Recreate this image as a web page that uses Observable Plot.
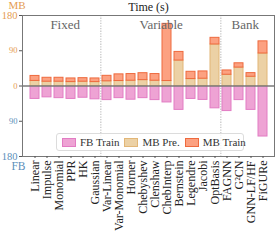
<!DOCTYPE html>
<html>
<head>
<meta charset="utf-8">
<script src="https://cdn.jsdelivr.net/npm/d3@7"></script>
<script src="https://cdn.jsdelivr.net/npm/@observablehq/plot@0.6"></script>
<style>
  body { margin: 0; background: #fff; }
  #wrap { position: relative; width: 279px; height: 241px; }
  #wrap, #wrap svg, #wrap svg text, #legend { font-family: "Liberation Serif", "Times New Roman", "DejaVu Serif", serif !important; }
  #legend { position: absolute; left: 56px; top: 133px; width: 181px; height: 16px;
    border: 1px solid #dcdcdc; border-radius: 3px; background: rgba(255,255,255,0.8);
    display: flex; align-items: center; font-size: 11px; color: #333; padding-left: 5px; box-sizing: content-box; }
  .item { display: flex; align-items: center; margin-right: 5px; white-space: nowrap; }
  .sw { width: 12px; height: 7px; margin-right: 4px; border: 1px solid; }
</style>
</head>
<body>
<div id="wrap"></div>
<script>
const categories = ["Linear","Impulse","Monomial","PPR","HK","Gaussian","Var-Linear","Var-Monomial","Horner","Chebyshev","Clenshaw","ChebInterp","Bernstein","Legendre","Jacobi","OptBasis","FAGNN","G²CN","GNN-LF/HF","FiGURe"];
const mbPre   = [13, 11, 11, 10, 11, 10, 12, 12.7, 13.5, 15, 13.5, 12.7, 65, 17.7, 18.6, 106, 28.7, 47, 23.6, 83];
const mbTrain = [12.7, 10, 10, 9.3, 9, 9.3, 14, 17, 17, 17.7, 17, 146, 22, 18.6, 18.6, 17, 11, 11, 9.3, 31];
const fbTrain = [33, 29, 31, 33, 30, 34, 36, 31, 35, 31, 36, 42, 61, 33, 35.5, 57, 64, 36, 61, 129];
const sections = ["Fixed", "Variable", "Bank"];
const sectionMid = ["Monomial", "Clenshaw", "G²CN"];
const sectionStart = ["Var-Linear", "FAGNN"];
const seriesNames = ["FB Train", "MB Pre.", "MB Train"];
const yTicksBig = [180, -180];
const yTicksSmall = [90, 0, -90];

const colors = {
  "FB Train": {fill: "#eea3d4", stroke: "#e27cc3"},
  "MB Pre.":  {fill: "#ecd1a5", stroke: "#e2b677"},
  "MB Train": {fill: "#fca181", stroke: "#ee6a3e"}
};
const mbColor = "#e59c52", fbColor = "#5b8fba";

const rows = categories.map((c, i) => ({cat: c, pre: mbPre[i], train: mbTrain[i], fb: fbTrain[i]}));

const W = 279, H = 241, ml = 22, mr = 5, mt = 15, mb = 85;
const pIn = 0.25, pOut = 0.3;
const step = (W - ml - mr) / (categories.length - pIn + 2 * pOut);

const plot = Plot.plot({
  width: W, height: H,
  marginLeft: ml, marginRight: mr, marginTop: mt, marginBottom: mb,
  style: {fontFamily: "'Liberation Serif', 'DejaVu Serif', serif", background: "transparent"},
  x: {domain: categories, paddingInner: pIn, paddingOuter: pOut, label: null},
  y: {domain: [-180, 180], label: null},
  marks: [
    Plot.ruleX(sectionStart, {x: d => d, dx: -step / 2, stroke: "#c8c8c8", strokeWidth: 1.3, strokeDasharray: "1.3,1.3"}),
    Plot.barY(rows, {x: "cat", y1: 0, y2: d => -d.fb, fill: colors["FB Train"].fill, stroke: colors["FB Train"].stroke, strokeWidth: 1}),
    Plot.barY(rows, {x: "cat", y1: 0, y2: "pre", fill: colors["MB Pre."].fill, stroke: colors["MB Pre."].stroke, strokeWidth: 1}),
    Plot.barY(rows, {x: "cat", y1: "pre", y2: d => d.pre + d.train, fill: colors["MB Train"].fill, stroke: colors["MB Train"].stroke, strokeWidth: 1}),
    Plot.ruleY([0], {stroke: "#7a7a7a", strokeWidth: 1.4}),
    Plot.frame({stroke: "#777", strokeWidth: 1}),
    Plot.axisX({tickRotate: -90, tickSize: 2, tickPadding: 2, fontSize: 12, fill: "#222", stroke: "#555", label: null}),
    Plot.axisY(yTicksBig, {tickSize: 3, tickPadding: 2, fontSize: 10.5, tickFormat: d => Math.abs(d), fill: d => d > 0 ? mbColor : fbColor, stroke: "#555", label: null}),
    Plot.axisY(yTicksSmall, {tickSize: 3, tickPadding: 2, fontSize: 8.5, tickFormat: d => Math.abs(d), fill: d => d >= 0 ? mbColor : fbColor, stroke: "#555", label: null}),
    Plot.text(sections, {x: sectionMid, dx: step / 2, frameAnchor: "top", lineAnchor: "middle", dy: 9, fontSize: 13, fill: "#666"}),
    Plot.text(["Time (s)"], {frameAnchor: "top", lineAnchor: "middle", dy: -8, fontSize: 12, fill: "#222"}),
    Plot.text(["MB"], {frameAnchor: "top-left", lineAnchor: "middle", textAnchor: "end", dx: 3, dy: -10, fontSize: 11, fill: mbColor}),
    Plot.text(["FB"], {frameAnchor: "bottom-left", lineAnchor: "middle", textAnchor: "end", dx: 3, dy: 10, fontSize: 11.5, fill: fbColor})
  ]
});

const wrap = document.getElementById("wrap");
wrap.appendChild(plot);
const legend = document.createElement("div");
legend.id = "legend";
for (const s of seriesNames) {
  const it = document.createElement("div");
  it.className = "item";
  const sw = document.createElement("span");
  sw.className = "sw";
  sw.style.background = colors[s].fill;
  sw.style.borderColor = colors[s].stroke;
  it.appendChild(sw);
  it.appendChild(document.createTextNode(s));
  legend.appendChild(it);
}
wrap.appendChild(legend);
</script>
</body>
</html>
